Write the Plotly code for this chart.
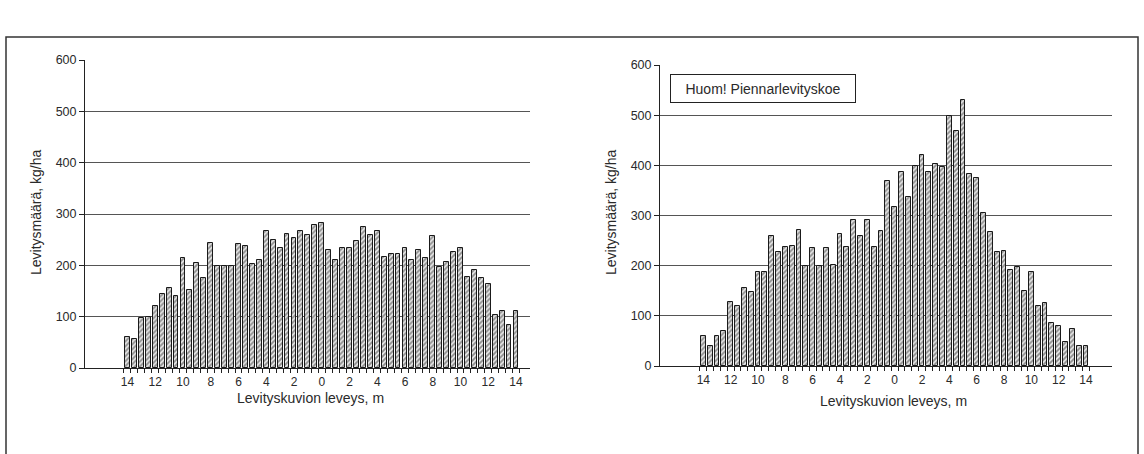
import plotly.graph_objects as go

# Distance across the spread pattern, m (negative = left side)
width_m = [-14, -13.5, -13, -12.5, -12, -11.5, -11, -10.5, -10, -9.5, -9, -8.5, -8, -7.5,
           -7, -6.5, -6, -5.5, -5, -4.5, -4, -3.5, -3, -2.5, -2, -1.5, -1, -0.5,
           0, 0.5, 1, 1.5, 2, 2.5, 3, 3.5, 4, 4.5, 5, 5.5, 6, 6.5, 7, 7.5,
           8, 8.5, 9, 9.5, 10, 10.5, 11, 11.5, 12, 12.5, 13, 13.5, 14]

# Spread rate, kg/ha — normal spreading test
left_rate = [60, 56, 98, 100, 120, 144, 155, 140, 215, 152, 204, 176, 243, 199,
             199, 199, 241, 238, 203, 210, 267, 250, 234, 262, 254, 266, 259, 278,
             282, 230, 210, 234, 234, 247, 274, 259, 266, 217, 223, 223, 234, 210,
             230, 214, 258, 197, 206, 226, 233, 178, 190, 175, 163, 104, 112, 84, 112]

# Spread rate, kg/ha — border spreading test
right_rate = [59, 39, 59, 70, 127, 119, 155, 147, 188, 188, 260, 228, 237, 240,
              271, 199, 236, 199, 236, 201, 263, 238, 291, 259, 291, 238, 270, 368,
              317, 387, 336, 399, 420, 387, 402, 397, 498, 468, 531, 382, 375, 305,
              268, 228, 230, 192, 198, 150, 187, 119, 126, 86, 79, 48, 74, 39, 39]

tick_vals = [-14, -12, -10, -8, -6, -4, -2, 0, 2, 4, 6, 8, 10, 12, 14]
tick_text = ["14", "12", "10", "8", "6", "4", "2", "0", "2", "4", "6", "8", "10", "12", "14"]

y_title = "Levitysmäärä, kg/ha"
x_title = "Levityskuvion leveys, m"
note_text = "Huom! Piennarlevityskoe"

W, H = 1144, 454
FONT = "Liberation Sans, Arial, sans-serif"
TXT = "#2a2a2a"

def px(x):
    return x / W

def py(y):
    return (H - y) / H

bar_style = dict(
    color="#ffffff",
    line=dict(color="#1a1a1a", width=1),
    pattern=dict(shape="/", fgcolor="#333333", bgcolor="#e6e6e6", size=3.5, solidity=0.5),
)

fig = go.Figure()
fig.add_trace(go.Bar(x=width_m, y=left_rate, width=0.35, marker=bar_style,
                     xaxis="x", yaxis="y", showlegend=False, hoverinfo="skip"))
fig.add_trace(go.Bar(x=width_m, y=right_rate, width=0.35, marker=bar_style,
                     xaxis="x2", yaxis="y2", showlegend=False, hoverinfo="skip"))

bounds = [v - 0.25 for v in width_m] + [width_m[-1] + 0.25]

def xaxis(domain, rng, anchor):
    return dict(
        domain=domain, range=rng, anchor=anchor,
        tickmode="array", tickvals=tick_vals, ticktext=tick_text,
        ticks="outside", ticklen=3, tickcolor="rgba(0,0,0,0)",
        minor=dict(tickmode="array", tickvals=bounds, ticks="outside",
                   ticklen=4, tickcolor="#222", tickwidth=1, showgrid=False),
        showgrid=False, zeroline=False,
        showline=True, linecolor="#222", linewidth=1,
        tickfont=dict(family=FONT, size=12, color=TXT),
        automargin=False, fixedrange=True,
    )

def yaxis(domain, anchor):
    return dict(
        domain=domain, range=[0, 600], anchor=anchor,
        tickmode="array", tickvals=[0, 100, 200, 300, 400, 500, 600],
        ticks="outside", ticklen=5, tickcolor="#222",
        showgrid=True, gridcolor="#555", gridwidth=1,
        zeroline=False, showline=True, linecolor="#222", linewidth=1,
        tickfont=dict(family=FONT, size=12.5, color=TXT),
        automargin=False, fixedrange=True,
    )

fig.update_layout(
    width=W, height=H, autosize=False,
    margin=dict(l=0, r=0, t=0, b=0, pad=0),
    paper_bgcolor="white", plot_bgcolor="white",
    bargap=0,
    xaxis=xaxis([px(85), px(530)], [-17.06, 15.01], "y"),
    yaxis=yaxis([py(368), py(60)], "x"),
    xaxis2=xaxis([px(660), px(1112)], [-17.17, 15.9], "y2"),
    yaxis2=yaxis([py(366), py(65)], "x2"),
    font=dict(family=FONT, color=TXT),
)

annos = [
    dict(text=y_title, x=px(36), y=py(213), textangle=-90),
    dict(text=y_title, x=px(611), y=py(213), textangle=-90),
    dict(text=x_title, x=px(310), y=py(398)),
    dict(text=x_title, x=px(893), y=py(401)),
]
for a in annos:
    fig.add_annotation(xref="paper", yref="paper", showarrow=False,
                       xanchor="center", yanchor="middle",
                       font=dict(family=FONT, size=14, color=TXT), **a)

fig.add_annotation(xref="paper", yref="paper", showarrow=False,
                   x=px(670), y=py(74), xanchor="left", yanchor="top",
                   text=note_text, width=176, height=19, borderpad=4,
                   bordercolor="#222", borderwidth=1, bgcolor="white",
                   align="center",
                   font=dict(family=FONT, size=14, color=TXT))

# outer frame
fig.add_shape(type="rect", xref="paper", yref="paper",
              x0=px(6), x1=px(1138), y0=-0.2, y1=py(37),
              line=dict(color="#333", width=1.5))

fig.write_html("out.html", config={"displayModeBar": False},
               post_script="document.body.style.margin='0';")
